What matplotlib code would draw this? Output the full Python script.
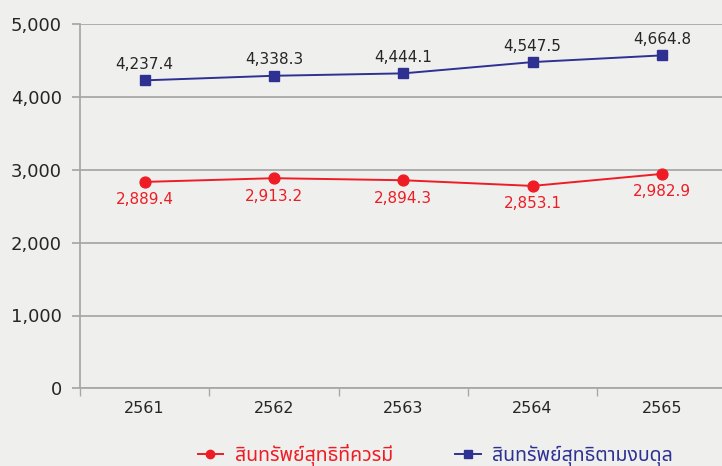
import matplotlib
matplotlib.use("Agg")
import matplotlib.pyplot as plt
from matplotlib import font_manager
from matplotlib.lines import Line2D
from matplotlib.ticker import FuncFormatter, FixedLocator

# ---- data ----
years = ["2561", "2562", "2563", "2564", "2565"]
# plotted positions
fair_values = [2835, 2886, 2858, 2780, 2945]
book_values = [4230, 4293, 4326, 4481, 4573]
# data label texts shown on the chart
fair_labels = ["2,889.4", "2,913.2", "2,894.3", "2,853.1", "2,982.9"]
book_labels = ["4,237.4", "4,338.3", "4,444.1", "4,547.5", "4,664.8"]
series_names = ["สินทรัพย์สุทธิที่ควรมี", "สินทรัพย์สุทธิตามงบดุล"]
y_ticks = [0, 1000, 2000, 3000, 4000, 5000]

# ---- find a font with Thai glyphs ----
thai_family = None
try:
    from fontTools.ttLib import TTFont
    probe = "สินทรัพย์"
    cands = []
    for f in font_manager.fontManager.ttflist:
        try:
            tt = TTFont(f.fname, fontNumber=0, lazy=True)
            cmap = tt.getBestCmap()
            if cmap and all(ord(c) in cmap for c in probe):
                cands.append(f.name)
        except Exception:
            pass
    pref = ["Tahoma", "Noto Sans Thai", "Loma", "Garuda", "Sarabun", "Norasi"]
    for p in pref:
        if p in cands:
            thai_family = p
            break
    if thai_family is None and cands:
        thai_family = cands[0]
except Exception:
    pass

families = ["DejaVu Sans"]
if thai_family:
    families = ["DejaVu Sans", thai_family]
plt.rcParams["font.family"] = families
thai_fams = [thai_family, "DejaVu Sans"] if thai_family else ["DejaVu Sans"]

BG = "#eff0ee"
RED = "#ee1c25"
NAVY = "#2e3192"
GRID = "#a8a8a8"
TXT = "#262626"

fig = plt.figure(figsize=(7.22, 4.66), dpi=100, facecolor=BG)
ax = fig.add_axes([80 / 722, 1 - 388.3 / 466, (726.5 - 80) / 722, (388.3 - 24.3) / 466])
ax.set_facecolor(BG)

x = list(range(len(years)))
ax.plot(x, fair_values, color=RED, lw=1.4, marker="o", ms=7.8, mec=RED, mfc=RED, zorder=3)
ax.plot(x, book_values, color=NAVY, lw=1.4, marker="s", ms=7.2, mec=NAVY, mfc=NAVY, zorder=3)

for xi, v, t in zip(x, book_values, book_labels):
    ax.annotate(t, (xi, v), xytext=(0, 11.5), textcoords="offset points",
                ha="center", va="center", fontsize=11, color=TXT)
for xi, v, t in zip(x, fair_values, fair_labels):
    ax.annotate(t, (xi, v), xytext=(0, -13), textcoords="offset points",
                ha="center", va="center", fontsize=11, color=RED)

ax.set_xlim(-0.5, len(years) - 0.5)
ax.set_ylim(0, 5000)
ax.set_yticks(y_ticks)
ax.yaxis.set_major_formatter(FuncFormatter(lambda v, p: f"{int(v):,}"))
ax.grid(axis="y", color=GRID, lw=1.3, zorder=0)
ax.set_axisbelow(True)

ax.set_xticks(x)
ax.set_xticklabels(years)
ax.xaxis.set_minor_locator(FixedLocator([i - 0.5 for i in range(len(years) + 1)]))
ax.tick_params(axis="x", which="major", length=0, pad=9, labelsize=11.5, labelcolor=TXT)
ax.tick_params(axis="x", which="minor", length=6, width=1, color=GRID)
ax.tick_params(axis="y", which="major", length=6, width=1.3, color=GRID, pad=7,
               labelsize=13, labelcolor=TXT)

for s in ["top", "right"]:
    ax.spines[s].set_visible(False)
for s in ["left", "bottom"]:
    ax.spines[s].set_color(GRID)
    ax.spines[s].set_linewidth(1.3)

handles = [
    Line2D([], [], color=RED, lw=1.4, marker="o", ms=6, mfc=RED, mec=RED),
    Line2D([], [], color=NAVY, lw=1.4, marker="s", ms=5.5, mfc=NAVY, mec=NAVY),
]
leg = fig.legend(handles, series_names, loc="center", bbox_to_anchor=(0.603, 0.024),
                 ncol=2, frameon=False, handlelength=1.3, handletextpad=0.6,
                 columnspacing=3.2, prop={"family": thai_fams, "size": 14})
for txt, c in zip(leg.get_texts(), [RED, NAVY]):
    txt.set_color(c)

fig.savefig("out.png", dpi=100, facecolor=BG)
